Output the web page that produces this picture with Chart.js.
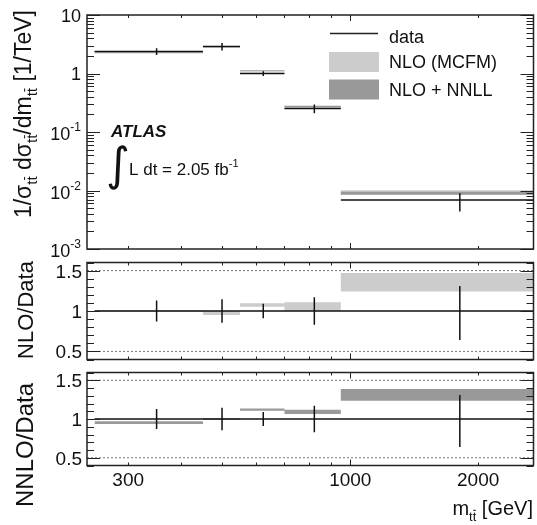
<!DOCTYPE html>
<html>
<head>
<meta charset="utf-8">
<script src="https://cdn.jsdelivr.net/npm/chart.js@4.4.1/dist/chart.umd.min.js"></script>
<style>
  body { margin: 0; background: #fff; }
  #wrap { position: relative; width: 537px; height: 525px; overflow: hidden; }
  #wrap canvas { position: absolute; left: 0; top: 0; }
</style>
</head>
<body>
<div id="wrap">
  <canvas id="panelTop" width="537" height="525"></canvas>
  <canvas id="panelNlo" width="537" height="525"></canvas>
  <canvas id="panelNnlo" width="537" height="525"></canvas>
</div>
<script>
(() => {

  // Data
  const binEdges = [250, 450, 550, 700, 950, 2700];
  const binCenters = [350, 499, 624, 823, 1811];
  const dataValues = [2.38, 2.9, 1.0, 0.252, 0.00686];
  const errUp = [0.13, 0.145, 0.09, 0.17, 0.31];     // relative
  const errDown = [0.13, 0.145, 0.09, 0.17, 0.36];   // relative
  const nloLow = [0.99, 0.95, 1.054, 1.0, 1.24];     // NLO / data
  const nloHigh = [1.01, 1.0, 1.095, 1.107, 1.47];
  const nnllLow = [0.935, 0.99, 1.107, 1.064, 1.236]; // NLO+NNLL / data
  const nnllHigh = [0.97, 1.01, 1.136, 1.12, 1.386];

  // Axis ticks
  const xTickValues = [300, 400, 500, 600, 700, 800, 900, 1000, 2000];
  const xTickLabels = [300, 1000, 2000];
  const topYTicks = [0.001, 0.01, 0.1, 1, 10];
  const topYLabels = [['10', '-3'], ['10', '-2'], ['10', '-1'], ['1', ''], ['10', '']];
  const ratioYTicks = [0.5, 1, 1.5];
  const ratioYLabels = ['0.5', '1', '1.5'];

  const FONT = '"Liberation Sans", Arial, Helvetica, sans-serif';
  const NLO_COLOR = '#cccccc';
  const NNLL_COLOR = '#999999';

  // helpers to build line data
  const segs = (vals) => {
    const pts = [];
    vals.forEach((v, i) => {
      pts.push({x: binEdges[i], y: v}, {x: binEdges[i + 1], y: v}, {x: binEdges[i + 1], y: null});
    });
    return pts;
  };
  const bars = (lo, hi) => {
    const pts = [];
    binCenters.forEach((c, i) => {
      pts.push({x: c, y: lo[i]}, {x: c, y: hi[i]}, {x: c, y: null});
    });
    return pts;
  };
  const steps = (vals) => {
    const pts = vals.map((v, i) => ({x: binEdges[i], y: v}));
    pts.push({x: binEdges[binEdges.length - 1], y: vals[vals.length - 1]});
    return pts;
  };

  const lineStyle = {borderColor: '#111', borderWidth: 1.5, pointRadius: 0, spanGaps: false};
  const bandPair = (lo, hi, color) => ([
    {data: steps(lo), stepped: 'before', borderWidth: 0, borderColor: 'rgba(0,0,0,0)', pointRadius: 0, fill: false},
    {data: steps(hi), stepped: 'before', borderWidth: 0, borderColor: 'rgba(0,0,0,0)', pointRadius: 0,
     fill: '-1', backgroundColor: color}
  ]);

  // rich text: parts = [{t, size, dy, bar, style}]
  function drawRich(ctx, parts, x, y, align) {
    let w = 0;
    parts.forEach(p => {
      ctx.font = (p.style || '') + ' ' + p.size + 'px ' + FONT;
      w += ctx.measureText(p.t).width;
    });
    let cx = align === 'right' ? x - w : align === 'center' ? x - w / 2 : x;
    ctx.textAlign = 'left';
    ctx.textBaseline = 'alphabetic';
    parts.forEach(p => {
      ctx.font = (p.style || '') + ' ' + p.size + 'px ' + FONT;
      const dy = p.dy || 0;
      ctx.fillText(p.t, cx, y + dy);
      const tw = ctx.measureText(p.t).width;
      if (p.bar) {
        const lw = ctx.measureText(p.t.slice(-1)).width;
        ctx.fillRect(cx + tw - lw + 0.5, y + dy - p.size * 0.86, lw - 1, 1);
      }
      cx += tw;
    });
  }

  const decorPlugin = {
    id: 'decor',
    afterDraw(chart, args, opts) {
      const ctx = chart.ctx;
      const {left, right, top, bottom} = chart.chartArea;
      const xs = chart.scales.x;
      const ys = chart.scales.y;
      ctx.save();
      ctx.strokeStyle = '#222';
      ctx.fillStyle = '#111';
      ctx.lineWidth = 1;

      // x ticks on bottom and top edge
      ctx.beginPath();
      xTickValues.forEach(v => {
        const px = Math.round(xs.getPixelForValue(v)) + 0.5;
        const len = v === 1000 ? 6 : 3;
        ctx.moveTo(px, bottom); ctx.lineTo(px, bottom - len);
        ctx.moveTo(px, top); ctx.lineTo(px, top + len);
      });
      ctx.stroke();

      // y ticks left and right
      const yMinor = [];
      if (opts.kind === 'top') {
        for (let e = -3; e < 1; e++) {
          for (let k = 2; k <= 9; k++) yMinor.push(k * Math.pow(10, e));
        }
      } else {
        for (let k = 4; k <= 16; k++) yMinor.push(k / 10);
      }
      const yMajor = opts.kind === 'top' ? topYTicks : ratioYTicks;
      ctx.beginPath();
      yMinor.forEach(v => {
        const py = Math.round(ys.getPixelForValue(v)) + 0.5;
        ctx.moveTo(left, py); ctx.lineTo(left + 7, py);
        ctx.moveTo(right, py); ctx.lineTo(right - 7, py);
      });
      yMajor.forEach(v => {
        const py = Math.round(ys.getPixelForValue(v)) + 0.5;
        ctx.moveTo(left, py); ctx.lineTo(left + 13, py);
        ctx.moveTo(right, py); ctx.lineTo(right - 13, py);
      });
      ctx.stroke();

      // frame
      ctx.lineWidth = 1.5;
      ctx.strokeRect(left, top, right - left, bottom - top);

      // y tick labels
      if (opts.kind === 'top') {
        topYTicks.forEach((v, i) => {
          const py = ys.getPixelForValue(v);
          const [base, exp] = topYLabels[i];
          if (exp) {
            drawRich(ctx, [{t: base, size: 18}, {t: exp, size: 12, dy: -9}], 81, py + 8, 'right');
          } else {
            drawRich(ctx, [{t: base, size: 18}], 81, py + 6.5, 'right');
          }
        });
      } else {
        ratioYTicks.forEach((v, i) => {
          const py = ys.getPixelForValue(v);
          drawRich(ctx, [{t: ratioYLabels[i], size: 19}], 82, py + 7, 'right');
        });
      }

      if (opts.kind === 'top') {
        // y title
        ctx.save();
        ctx.translate(31, 10);
        ctx.rotate(-Math.PI / 2);
        drawRich(ctx, [
          {t: '1/\u03c3', size: 23},
          {t: 'tt', size: 15, dy: 6, bar: true},
          {t: ' d\u03c3', size: 23},
          {t: 'tt', size: 15, dy: 6, bar: true},
          {t: '/dm', size: 23},
          {t: 'tt', size: 15, dy: 6, bar: true},
          {t: ' [1/TeV]', size: 23}
        ], 0, 0, 'right');
        ctx.restore();

        // legend
        ctx.lineWidth = 1.5;
        ctx.strokeStyle = '#222';
        ctx.beginPath();
        ctx.moveTo(330, 33.5); ctx.lineTo(378, 33.5);
        ctx.stroke();
        ctx.fillStyle = NLO_COLOR;
        ctx.fillRect(329, 52, 50, 20);
        ctx.fillStyle = NNLL_COLOR;
        ctx.fillRect(329, 79.5, 50, 20);
        ctx.fillStyle = '#111';
        drawRich(ctx, [{t: 'data', size: 18}], 389, 43, 'left');
        drawRich(ctx, [{t: 'NLO (MCFM)', size: 18}], 389, 68, 'left');
        drawRich(ctx, [{t: 'NLO + NNLL', size: 18}], 389, 96, 'left');

        // ATLAS label
        drawRich(ctx, [{t: 'ATLAS', size: 17, style: 'italic bold'}], 111, 137, 'left');
        ctx.font = '46px "DejaVu Sans"';
        ctx.textAlign = 'left';
        ctx.fillText('\u222b', 106, 180);
        drawRich(ctx, [{t: 'L dt = 2.05 fb', size: 17}, {t: '-1', size: 11, dy: -8}], 129, 175, 'left');
      }

      if (opts.kind === 'nlo') {
        ctx.save();
        ctx.translate(33, 310);
        ctx.rotate(-Math.PI / 2);
        drawRich(ctx, [{t: 'NLO/Data', size: 22}], 0, 0, 'center');
        ctx.restore();
      }

      if (opts.kind === 'nnlo') {
        ctx.save();
        ctx.translate(33, 445);
        ctx.rotate(-Math.PI / 2);
        drawRich(ctx, [{t: 'NNLO/Data', size: 24}], 0, 0, 'center');
        ctx.restore();

        xTickLabels.forEach(v => {
          const px = xs.getPixelForValue(v);
          drawRich(ctx, [{t: String(v), size: 19}], px, 486, 'center');
        });
        drawRich(ctx, [
          {t: 'm', size: 20},
          {t: 'tt', size: 13, dy: 6, bar: true},
          {t: ' [GeV]', size: 20}
        ], 533, 515, 'right');
      }

      ctx.restore();
    }
  };

  function panelOptions(yScale, padding, kind) {
    return {
      responsive: false,
      animation: false,
      events: [],
      layout: {padding},
      scales: {
        x: {type: 'logarithmic', min: 240, max: 2700, display: false},
        y: Object.assign({display: false}, yScale)
      },
      elements: {point: {radius: 0, hoverRadius: 0}, line: {tension: 0}},
      plugins: {legend: {display: false}, tooltip: {enabled: false}, decor: {kind}}
    };
  }

  // top panel: normalised cross section
  const topLow = dataValues.map((v, i) => v * (1 - errDown[i]));
  const topHigh = dataValues.map((v, i) => v * (1 + errUp[i]));
  new Chart(document.querySelector('#panelTop'), {
    type: 'line',
    data: {
      datasets: [
        Object.assign({data: segs(dataValues)}, lineStyle),
        Object.assign({data: bars(topLow, topHigh)}, lineStyle),
        ...bandPair(dataValues.map((v, i) => v * nnllLow[i]), dataValues.map((v, i) => v * nnllHigh[i]), NNLL_COLOR),
        ...bandPair(dataValues.map((v, i) => v * nloLow[i]), dataValues.map((v, i) => v * nloHigh[i]), NLO_COLOR)
      ]
    },
    options: panelOptions({type: 'logarithmic', min: 0.001, max: 10},
      {left: 87, right: 3.5, top: 15, bottom: 276}, 'top'),
    plugins: [decorPlugin]
  });

  // ratio panels
  const ratioOnes = dataValues.map(v => v / v);
  const ratioLow = errDown.map(e => 1 - e);
  const ratioHigh = errUp.map(e => 1 + e);
  const refLines = {
    data: [{x: 240, y: 1.5}, {x: 2700, y: 1.5}, {x: 2700, y: null}, {x: 240, y: 0.5}, {x: 2700, y: 0.5}],
    borderColor: '#777', borderWidth: 1, borderDash: [2, 2], pointRadius: 0
  };

  new Chart(document.querySelector('#panelNlo'), {
    type: 'line',
    data: {
      datasets: [
        Object.assign({data: segs(ratioOnes)}, lineStyle),
        Object.assign({data: bars(ratioLow, ratioHigh)}, lineStyle),
        Object.assign({}, refLines),
        ...bandPair(nloLow, nloHigh, NLO_COLOR)
      ]
    },
    options: panelOptions({type: 'linear', min: 0.4, max: 1.6},
      {left: 87, right: 3.5, top: 262.5, bottom: 165.5}, 'nlo'),
    plugins: [decorPlugin]
  });

  new Chart(document.querySelector('#panelNnlo'), {
    type: 'line',
    data: {
      datasets: [
        Object.assign({data: segs(ratioOnes)}, lineStyle),
        Object.assign({data: bars(ratioLow, ratioHigh)}, lineStyle),
        Object.assign({}, refLines),
        ...bandPair(nnllLow, nnllHigh, NNLL_COLOR)
      ]
    },
    options: panelOptions({type: 'linear', min: 0.4, max: 1.6},
      {left: 87, right: 3.5, top: 372.5, bottom: 59.5}, 'nnlo'),
    plugins: [decorPlugin]
  });

})();
</script>
</body>
</html>
